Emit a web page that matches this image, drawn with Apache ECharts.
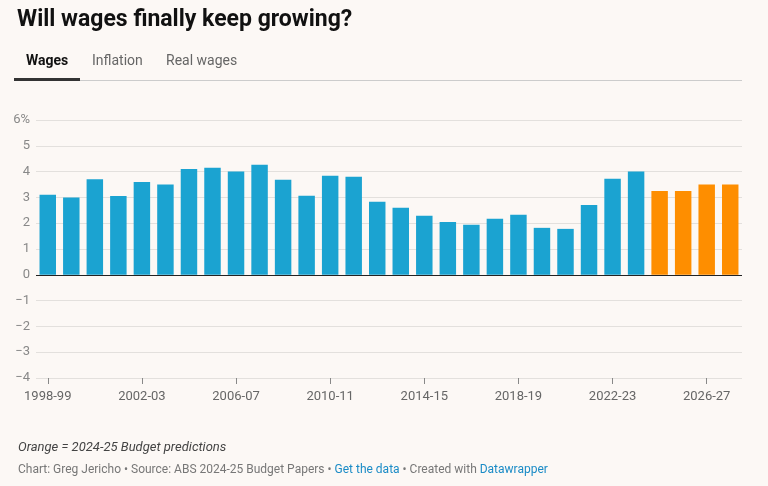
<!DOCTYPE html>
<html lang="en">
<head>
<meta charset="UTF-8">
<title>Will wages finally keep growing?</title>
<script src="https://cdn.jsdelivr.net/npm/echarts@6/dist/echarts.min.js"></script>
<style>
  html, body { margin: 0; padding: 0; background: #fcf8f5; }
  #main { width: 768px; height: 486px; }
</style>
</head>
<body>
<div id="main"></div>
<script>
    // financial years
    const years = ['1998-99', '1999-00', '2000-01', '2001-02', '2002-03', '2003-04', '2004-05', '2005-06',
        '2006-07', '2007-08', '2008-09', '2009-10', '2010-11', '2011-12', '2012-13', '2013-14', '2014-15',
        '2015-16', '2016-17', '2017-18', '2018-19', '2019-20', '2020-21', '2021-22', '2022-23', '2023-24',
        '2024-25', '2025-26', '2026-27', '2027-28'];
    // wage growth %, last 4 are budget predictions
    const wages = [3.1, 3.0, 3.7, 3.05, 3.6, 3.5, 4.1, 4.15, 4.0, 4.27, 3.68, 3.06, 3.84, 3.8, 2.83, 2.6, 2.29,
        2.05, 1.94, 2.17, 2.33, 1.82, 1.78, 2.71, 3.72, 4.0, 3.25, 3.25, 3.5, 3.5];
    const firstForecast = 26;
    const yTicks = [-4, -3, -2, -1, 0, 1, 2, 3, 4, 5, 6];

    let myEchart = echarts.init(document.getElementById('main'));
    let font = 'Roboto, sans-serif';

    let option = {
        backgroundColor: '#fcf8f5',
        textStyle: { fontFamily: font },
        title: [
            { text: 'Will wages finally keep growing?', left: 12, top: 4,
              textStyle: { fontSize: 23, fontWeight: 'bold', color: '#111', fontFamily: font } },
            { text: 'Orange = 2024-25 Budget predictions', left: 13, top: 436,
              textStyle: { fontSize: 13, fontStyle: 'italic', fontWeight: 'normal', color: '#444', fontFamily: font } },
            { text: 'Chart: Greg Jericho • Source: ABS 2024-25 Budget Papers • {l|Get the data} • Created with {l|Datawrapper}',
              left: 13, top: 459,
              textStyle: { fontSize: 12, fontWeight: 'normal', color: '#777', fontFamily: font,
                  rich: { l: { color: '#1a8bc6', fontSize: 12, fontFamily: font } } } }
        ],
        graphic: [
            { type: 'text', left: 26, top: 54, style: { text: 'Wages', font: 'bold 14px ' + font, fill: '#111' } },
            { type: 'text', left: 92, top: 54, style: { text: 'Inflation', font: '14px ' + font, fill: '#666' } },
            { type: 'text', left: 166, top: 54, style: { text: 'Real wages', font: '14px ' + font, fill: '#666' } },
            { type: 'rect', shape: { x: 14, y: 80, width: 728, height: 1 }, style: { fill: '#ccc' } },
            { type: 'rect', shape: { x: 14, y: 78, width: 66, height: 3 }, style: { fill: '#333' } }
        ],
        grid: { left: 36, right: 26, top: 120, bottom: 108 },
        xAxis: {
            type: 'category',
            data: years,
            axisLine: { onZero: false, show: false },
            axisTick: { show: true, alignWithLabel: true, interval: 3, length: 6, lineStyle: { color: '#888' } },
            axisLabel: { interval: 3, color: '#666', fontSize: 13, margin: 12 }
        },
        yAxis: {
            type: 'value',
            min: yTicks[0],
            max: yTicks[yTicks.length - 1],
            interval: 1,
            axisLine: { show: false },
            axisTick: { show: false },
            axisLabel: {
                color: '#888', fontSize: 13, margin: 6,
                formatter: v => v === 6 ? '6%' : (v < 0 ? '\u2212' + (-v) : String(v))
            },
            splitLine: { lineStyle: { color: '#e3e0dd' } }
        },
        series: [{
            type: 'bar',
            barCategoryGap: '30%',
            data: wages.map((v, i) => ({ value: v, itemStyle: { color: i >= firstForecast ? '#fe8e00' : '#1ba3d1' } })),
            markLine: {
                silent: true, symbol: 'none', label: { show: false },
                lineStyle: { color: '#222', type: 'solid', width: 1 },
                data: [{ yAxis: 0 }]
            }
        }]
    };
    myEchart.setOption(option);
</script>
</body>
</html>
